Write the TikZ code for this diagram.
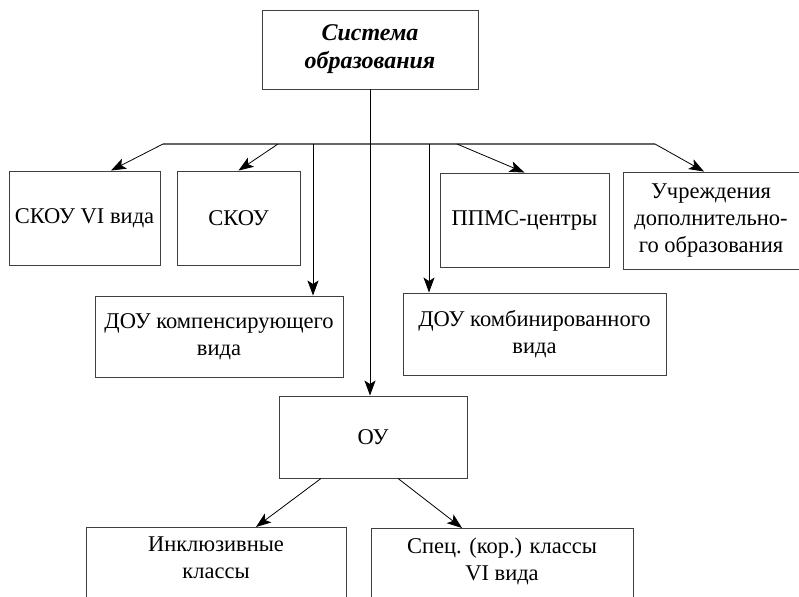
\documentclass[tikz,border=0pt]{standalone}
\usepackage{fontspec}
\setmainfont{Liberation Serif}
\usetikzlibrary{arrows.meta,positioning,calc}
\tikzset{
  unit/.style={draw=black!75, line width=0.9pt, fill=white, align=center, inner sep=2pt, font=\fontsize{22.5}{27}\selectfont},
  cutunit/.style={unit, anchor=north, minimum height=0pt, inner ysep=9pt, text depth=60pt},
  arr/.style={-{Stealth[length=15pt,width=11pt,inset=3.5pt]}, line width=0.8pt},
  bus/.style={draw=black!60, line width=1.3pt},
}
\begin{document}
\begin{tikzpicture}[x=1pt,y=-1pt]
  \useasboundingbox (0,0) rectangle (799,596);
  \clip (0,0) rectangle (799,596);

  % Top level
  \node[unit, minimum width=216pt, minimum height=79pt, font=\fontsize{24}{28}\selectfont\bfseries\itshape] (sys) at (370,49.5) {Система\\образования};

  % First row
  \node[unit, minimum width=151pt, minimum height=94pt] (skouvi) at (84.5,218) {СКОУ VI вида};
  \node[unit, minimum width=123pt, minimum height=94pt] (skou)   at (238.5,218) {СКОУ};
  \node[unit, minimum width=169pt, minimum height=94pt] (ppms)   at (524.5,220) {ППМС-центры};
  \node[unit, minimum width=176pt, minimum height=97pt] (uchr)   at (711,220.5) {Учреждения\\дополнительно-\\го образования};

  % Second row
  \node[unit, minimum width=248pt, minimum height=81pt] (doukomp) at (219,336.5) {ДОУ компенсирующего\\вида};
  \node[unit, minimum width=263pt, minimum height=82pt] (doukomb) at (534.5,334) {ДОУ комбинированного\\вида};

  % OU and classes
  \node[unit, minimum width=188pt, minimum height=82pt] (ou) at (373,437) {ОУ};
  \node[cutunit, minimum width=260pt] (inkl) at (216,527) {Инклюзивные\\классы};
  \node[cutunit, minimum width=262pt] (spec) at (502,528) {Спец. (кор.) классы\\VI вида};

  % Bus
  \coordinate (b1) at (163,144);
  \coordinate (b2) at (278,144);
  \coordinate (b3) at (313,144);
  \coordinate (b4) at (429,144);
  \coordinate (b5) at (457,144);
  \coordinate (b6) at (655,144);
  \draw[bus] (b1) -- (b6);

  % Connectors
  \draw[arr] (sys.south) -- (sys.south |- ou.north);
  \draw[arr] (b1) -- ([xshift=26.5pt]skouvi.north);
  \draw[arr] (b2) -- (skou.north);
  \draw[arr] (b3) -- (b3 |- doukomp.north);
  \draw[arr] (b4) -- (b4 |- doukomb.north);
  \draw[arr] (b5) -- (ppms.north);
  \draw[arr] (b6) -- ([xshift=-7pt]uchr.north);
  \draw[arr] ([xshift=-52pt]ou.south) -- ([xshift=40pt]inkl.north);
  \draw[arr] ([xshift=25pt]ou.south) -- ([xshift=-40pt]spec.north);
\end{tikzpicture}
\end{document}
